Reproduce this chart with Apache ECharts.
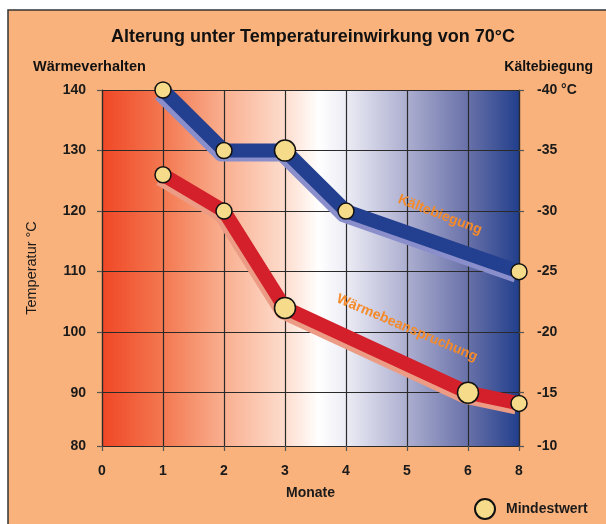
<!DOCTYPE html>
<html><head><meta charset="utf-8">
<script src="https://cdn.jsdelivr.net/npm/echarts@6/dist/echarts.min.js"></script>
<style>html,body{margin:0;padding:0;background:#fff}#c{width:606px;height:524px}</style>
</head><body><div id="c"></div>
<script>
// ---- data ----
const monthTicks = [0, 1, 2, 3, 4, 5, 6, 8];
const leftTicks = [80, 90, 100, 110, 120, 130, 140];
const rightTicks = [-40, -35, -30, -25, -20, -15, -10];
const kaelteMonths = [1, 2, 3, 4, 8];
const kaelteValues = [-40, -35, -35, -30, -25];
const waermeMonths = [1, 2, 3, 6, 8];
const waermeValues = [126, 120, 104, 90, 88];

// ---- styles ----
const kaelteMarkerSizes = [16, 16, 21, 16, 16];
const waermeMarkerSizes = [16, 16, 21, 21, 16];

// axes of the original are drawn with a compressed last segment
const X_FROM = 6, X_F = 0.418;
const toAxisX = m => m <= X_FROM ? m : X_FROM + (m - X_FROM) * X_F;
const fromAxisX = v => v <= X_FROM ? v : X_FROM + (v - X_FROM) / X_F;
const Y_FROM = 90, Y_F = 0.88;
const toAxisY = v => v >= Y_FROM ? v : Y_FROM - (Y_FROM - v) * Y_F;
const fromAxisY = v => v >= Y_FROM ? v : Y_FROM - (Y_FROM - v) / Y_F;
const R_FROM = -15;
const toAxisR = v => v <= R_FROM ? v : R_FROM + (v - R_FROM) * Y_F;
const fromAxisR = v => v <= R_FROM ? v : R_FROM + (v - R_FROM) / Y_F;

const FONT = "'Liberation Sans', Arial, sans-serif";
const chart = echarts.init(document.getElementById('c'), null, {renderer: 'canvas'});

const axisLabelStyle = {fontFamily: FONT, fontWeight: 'bold', fontSize: 14, color: '#1a1a1a'};
const lineCol = '#2a2a2a';

const option = {
  backgroundColor: '#ffffff',
  animation: false,
  textStyle: {fontFamily: FONT},
  grid: {
    left: 102, right: 87, top: 90, bottom: 78, show: true, borderWidth: 0,
    backgroundColor: new echarts.graphic.LinearGradient(0, 0, 1, 0, [
      {offset: 0, color: '#F04726'},
      {offset: 0.146, color: '#F37850'},
      {offset: 0.29, color: '#F9AE8E'},
      {offset: 0.44, color: '#FDDDCE'},
      {offset: 0.52, color: '#FFFFFF'},
      {offset: 0.585, color: '#ECECF5'},
      {offset: 0.73, color: '#ADAFD0'},
      {offset: 0.88, color: '#6770A8'},
      {offset: 1, color: '#223F8C'}
    ])
  },
  xAxis: {
    type: 'value', min: 0, max: toAxisX(monthTicks[monthTicks.length - 1]),
    name: 'Monate', nameLocation: 'middle', nameGap: 40,
    nameTextStyle: {fontFamily: FONT, fontWeight: 'bold', fontSize: 14, color: '#1a1a1a'},
    axisLine: {show: true, onZero: false, lineStyle: {color: lineCol, width: 1.2}},
    axisTick: {show: true, length: 5, customValues: monthTicks.map(toAxisX), lineStyle: {color: '#555', width: 1.2}},
    axisLabel: Object.assign({customValues: monthTicks.map(toAxisX), margin: 18,
      formatter: v => String(Math.round(fromAxisX(v)))}, axisLabelStyle),
    splitLine: {show: true, lineStyle: {color: lineCol, width: 1.2}}
  },
  yAxis: [{
    type: 'value', min: toAxisY(leftTicks[0]), max: leftTicks[leftTicks.length - 1],
    name: 'Temperatur °C', nameLocation: 'middle', nameGap: 63, nameRotate: 90,
    nameTextStyle: {fontFamily: FONT, fontSize: 14.5, color: '#1a1a1a'},
    axisLine: {show: true, onZero: false, lineStyle: {color: lineCol, width: 1.2}},
    axisTick: {show: true, length: 5, customValues: leftTicks.map(toAxisY), lineStyle: {color: '#555', width: 1.2}},
    axisLabel: Object.assign({customValues: leftTicks.map(toAxisY), margin: 16,
      formatter: v => String(Math.round(fromAxisY(v)))}, axisLabelStyle),
    splitLine: {show: true, lineStyle: {color: lineCol, width: 1.2}}
  }, {
    type: 'value', inverse: true, min: rightTicks[0], max: toAxisR(rightTicks[rightTicks.length - 1]),
    position: 'right',
    axisLine: {show: true, onZero: false, lineStyle: {color: lineCol, width: 1.2}},
    axisTick: {show: true, length: 5, customValues: rightTicks.map(toAxisR), lineStyle: {color: '#555', width: 1.2}},
    axisLabel: Object.assign({customValues: rightTicks.map(toAxisR), margin: 18,
      formatter: v => { const r = Math.round(fromAxisR(v)); return r === rightTicks[0] ? r + ' °C' : String(r); }}, axisLabelStyle),
    splitLine: {show: false}
  }],
  legend: {
    data: ['Mindestwert'], left: 469, top: 493, icon: 'circle', itemWidth: 20, itemHeight: 20,
    textStyle: {fontFamily: FONT, fontWeight: 'bold', fontSize: 14, color: '#1a1a1a', padding: [0, 0, 0, 6]}
  },
  series: [{
    name: 'Kältebiegung', type: 'line', yAxisIndex: 1, symbol: 'none', z: 3,
    data: kaelteMonths.map((m, i) => [toAxisX(m), toAxisR(kaelteValues[i])]),
    lineStyle: {color: '#233F8F', width: 14, join: 'round',
      shadowColor: '#8A8FCB', shadowOffsetX: -3, shadowOffsetY: 4, shadowBlur: 0}
  }, {
    name: 'Wärmebeanspruchung', type: 'line', yAxisIndex: 0, symbol: 'none', z: 3,
    data: waermeMonths.map((m, i) => [toAxisX(m), toAxisY(waermeValues[i])]),
    lineStyle: {color: '#D3202A', width: 14, join: 'round',
      shadowColor: '#EC9C84', shadowOffsetX: -3, shadowOffsetY: 4, shadowBlur: 0}
  }, {
    name: 'Mindestwert', type: 'scatter', yAxisIndex: 1, z: 5, symbol: 'circle',
    data: kaelteMonths.map((m, i) => ({value: [toAxisX(m), toAxisR(kaelteValues[i])], symbolSize: kaelteMarkerSizes[i]})),
    itemStyle: {color: '#F6DC8A', borderColor: '#111', borderWidth: 1.5, opacity: 1}
  }, {
    name: 'Mindestwert', type: 'scatter', yAxisIndex: 0, z: 5, symbol: 'circle',
    data: waermeMonths.map((m, i) => ({value: [toAxisX(m), toAxisY(waermeValues[i])], symbolSize: waermeMarkerSizes[i]})),
    itemStyle: {color: '#F6DC8A', borderColor: '#111', borderWidth: 1.5, opacity: 1}
  }],
  graphic: [
    {id: 'frame', type: 'rect', z: -10, shape: {x: 8, y: 10, width: 640, height: 560},
      style: {fill: '#F9B27B', stroke: '#333', lineWidth: 1.5}},
    {id: 'title', type: 'text', x: 313, y: 37, style: {text: 'Alterung unter Temperatureinwirkung von 70°C',
      font: "bold 18px " + FONT, fill: '#111', textAlign: 'center', textVerticalAlign: 'middle'}},
    {id: 'lname', type: 'text', x: 33, y: 67, style: {text: 'Wärmeverhalten',
      font: "bold 14.5px " + FONT, fill: '#111', textAlign: 'left', textVerticalAlign: 'middle'}},
    {id: 'rname', type: 'text', x: 593, y: 67, style: {text: 'Kältebiegung',
      font: "bold 14px " + FONT, fill: '#111', textAlign: 'right', textVerticalAlign: 'middle'}}
  ]
};
chart.setOption(option);

// line annotations placed in data coordinates (left axis)
const annots = [
  {id: 'a1', text: 'Kältebiegung', at: [5.54, 119.4], rot: -21},
  {id: 'a2', text: 'Wärmebeanspruchung', at: [5.0, 100.7], rot: -23}
];
option.graphic = option.graphic.concat(annots.map(a => {
  const p = chart.convertToPixel({xAxisIndex: 0, yAxisIndex: 0}, [a.at[0], a.at[1]]);
  return {id: a.id, type: 'text', x: p[0], y: p[1], rotation: a.rot * Math.PI / 180, z: 10,
    style: {text: a.text, font: "bold 14px " + FONT, fill: '#F58A2A', textAlign: 'center', textVerticalAlign: 'middle'}};
}));
chart.setOption({graphic: option.graphic});
</script></body></html>
